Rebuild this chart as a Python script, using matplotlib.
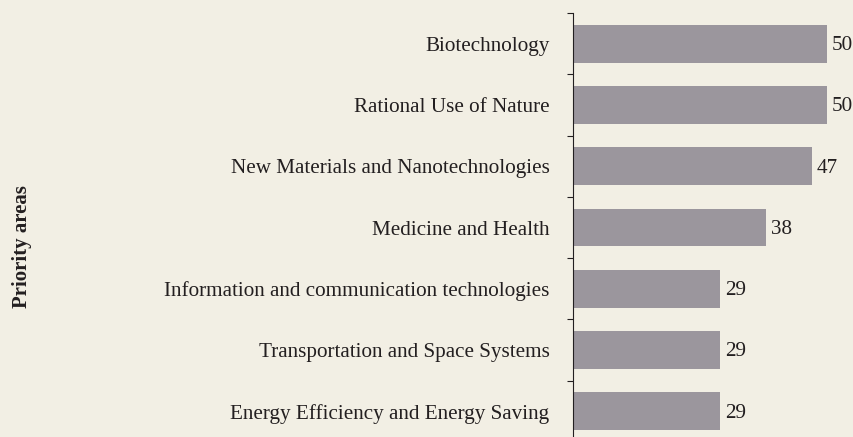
import matplotlib.pyplot as plt

# Data
areas = [
    "Biotechnology",
    "Rational Use of Nature",
    "New Materials and Nanotechnologies",
    "Medicine and Health",
    "Information and communication technologies",
    "Transportation and Space Systems",
    "Energy Efficiency and Energy Saving",
]
values = [50, 50, 47, 38, 29, 29, 29]

BG = "#f2efe4"
BAR = "#9b969d"
TEXT = "#231f20"
FS = 15.2

plt.rcParams["font.family"] = ["Liberation Serif", "DejaVu Serif"]

fig = plt.figure(figsize=(8.54, 4.37), dpi=100, facecolor=BG)
# axes runs a little past the bottom edge, as in the original
ax = fig.add_axes([573 / 854, -5 / 437, 281 / 854, 429 / 437])
ax.set_facecolor(BG)

pos = list(range(len(areas)))
ax.barh(pos, values, height=0.62, color=BAR)
ax.set_ylim(len(areas) - 0.5, -0.5)
ax.set_xlim(0, 55.3)

for y, v in zip(pos, values):
    ax.text(v + 1.0, y + 0.03, str(v), va="center", ha="left", fontsize=FS, color=TEXT)

ax.set_yticks(pos)
ax.set_yticklabels(areas, fontsize=FS, color=TEXT)
ax.tick_params(axis="y", which="major", length=0, pad=17)
ax.set_yticks([p + 0.5 for p in [-1] + pos], minor=True)
ax.tick_params(axis="y", which="minor", length=4, width=0.8, color=TEXT)
ax.set_xticks([])

for side in ["top", "right", "bottom"]:
    ax.spines[side].set_visible(False)
ax.spines["left"].set_color(TEXT)
ax.spines["left"].set_linewidth(0.8)

fig.text(22 / 854, 1 - 247 / 437, "Priority areas", rotation=90, ha="center",
         va="center", fontsize=15, fontweight="bold", color=TEXT)

fig.savefig("out.png", dpi=100, facecolor=BG)
